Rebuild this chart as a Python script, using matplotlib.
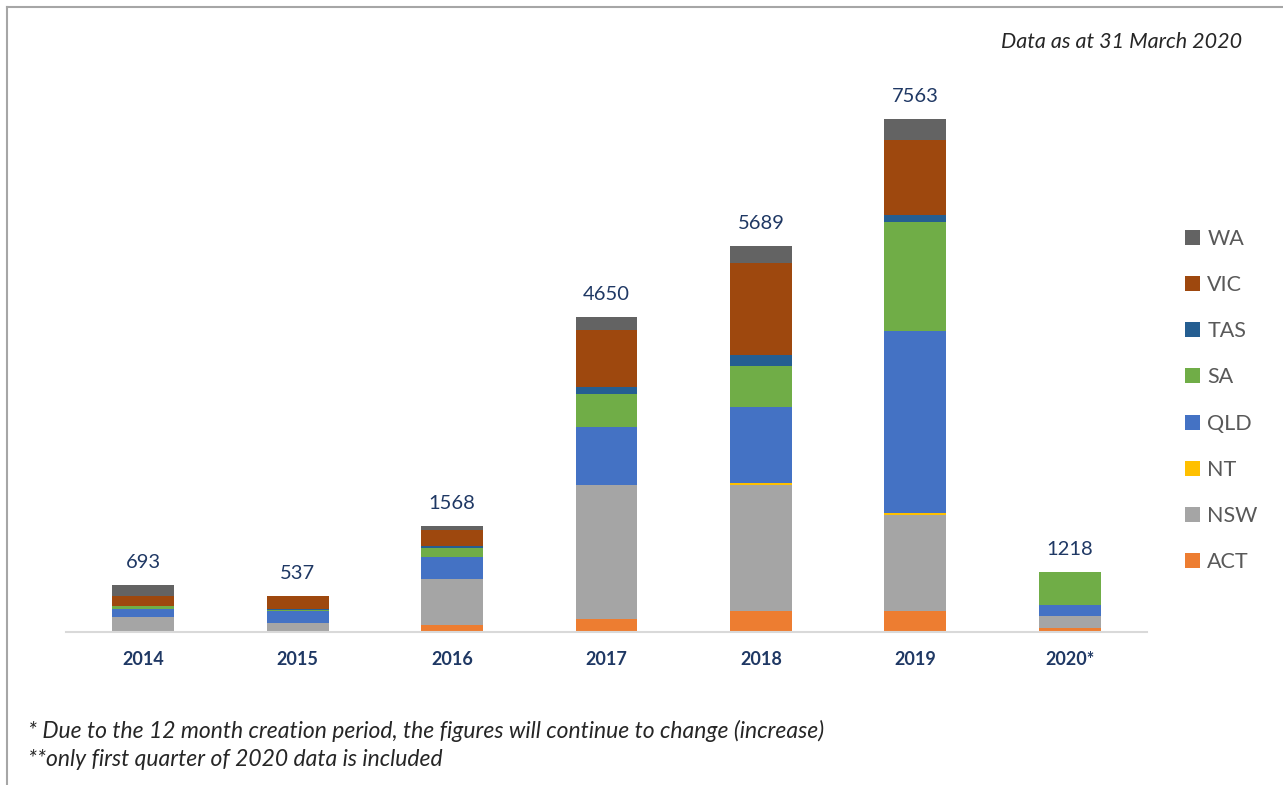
import numpy as np
import matplotlib.pyplot as plt
from matplotlib.lines import Line2D
from matplotlib.patches import Patch

plt.rcParams['font.family'] = ['Lato', 'DejaVu Sans']

years = ["2014", "2015", "2016", "2017", "2018", "2019", "2020*"]
totals = [693, 537, 1568, 4650, 5689, 7563, 1218]

# stacked bottom to top
states = ["ACT", "NSW", "NT", "QLD", "SA", "TAS", "VIC", "WA"]
act = [0, 0, 99, 191, 305, 310, 59]
nsw = [215, 126, 678, 1970, 1861, 1420, 182]
nt = [3, 2, 0, 8, 34, 29, 0]
qld = [125, 176, 324, 855, 1116, 2679, 157]
sa = [40, 25, 137, 487, 604, 1607, 491]
tas = [5, 15, 25, 93, 158, 103, 0]
vic = [140, 185, 236, 840, 1356, 1105, 0]
wa = [165, 8, 69, 206, 255, 310, 0]

series = [act, nsw, nt, qld, sa, tas, vic, wa]
colors = ["#ED7D31", "#A5A5A5", "#FFC000", "#4472C4", "#70AD47", "#255E91", "#9E480E", "#636363"]

navy = "#1F3864"

fig = plt.figure(figsize=(12.83, 7.85), dpi=100)
ax = fig.add_axes([66/1283, 1-632/785, 1081/1283, 572/785])

x = np.arange(len(years))
bottom = np.zeros(len(years))
for vals, c, name in zip(series, colors, states):
    ax.bar(x, vals, width=0.4, bottom=bottom, color=c, label=name)
    bottom += np.array(vals)

for xi, top, t in zip(x, bottom, totals):
    ax.annotate(str(t), (xi, top), xytext=(0, 10), textcoords="offset points",
                ha="center", va="bottom", fontsize=14.5, color=navy)

ax.set_xlim(-0.5, 6.5)
ax.set_ylim(0, 8431)
ax.set_xticks(x)
ax.set_xticklabels(years, fontsize=13, fontweight="bold", color=navy)
ax.tick_params(axis="x", length=0, pad=14)
ax.set_yticks([])
for s in ["top", "right", "left"]:
    ax.spines[s].set_visible(False)
ax.spines["bottom"].set_color("#D9D9D9")
ax.spines["bottom"].set_linewidth(1.5)

handles = [Patch(facecolor=c, label=n) for c, n in zip(colors, states)][::-1]
fig.legend(handles=handles, loc="upper left", bbox_to_anchor=(1176/1283, 1-220/785),
           frameon=False, fontsize=15.5, labelcolor="#595959", labelspacing=1.22,
           handlelength=0.7, handleheight=0.7, handletextpad=0.35, borderaxespad=0)

fig.text(1242/1283, 1-42/785, "Data as at 31 March 2020", ha="right", va="center",
         fontsize=15.5, style="italic", color="#262626")
fig.text(28/1283, 1-731/785,
         "* Due to the 12 month creation period, the figures will continue to change (increase)",
         ha="left", va="center", fontsize=16.5, style="italic", color="#262626")
fig.text(28/1283, 1-760/785, "**only first quarter of 2020 data is included",
         ha="left", va="center", fontsize=16.5, style="italic", color="#262626")

# outer frame
fig.add_artist(Line2D([7/1283, 1282/1283], [1-7/785, 1-7/785], color="#A6A6A6", lw=1.5))
fig.add_artist(Line2D([7/1283, 7/1283], [0, 1-7/785], color="#A6A6A6", lw=1.5))

fig.savefig("out.png", dpi=100)
